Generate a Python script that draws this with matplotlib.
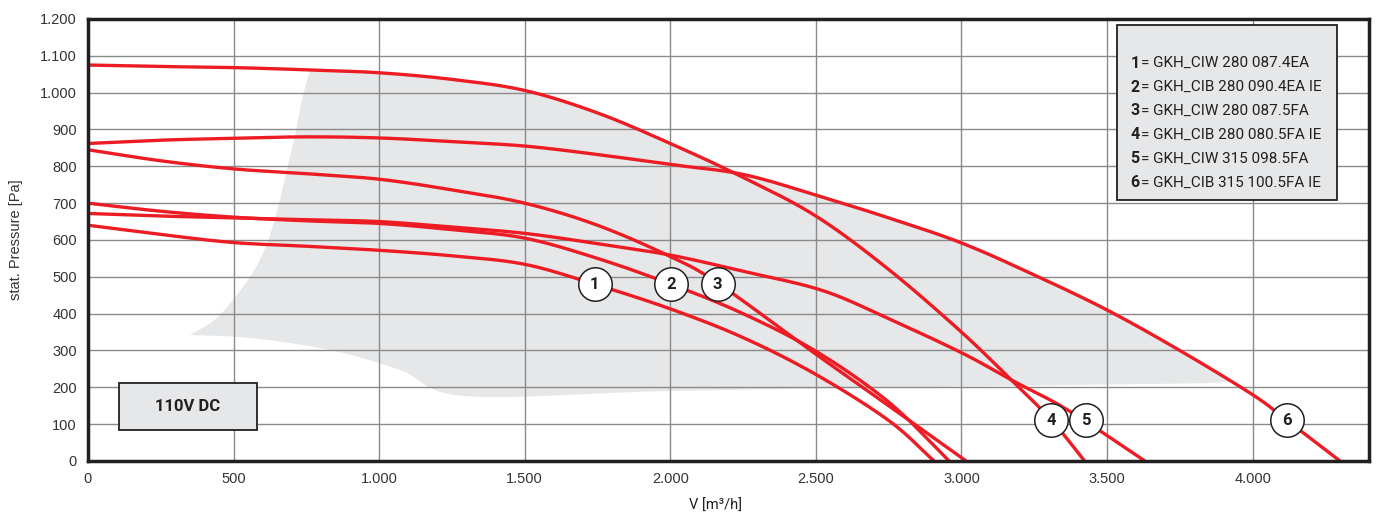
import numpy as np
import matplotlib
matplotlib.use("Agg")
import matplotlib.pyplot as plt
from matplotlib.ticker import FuncFormatter, MultipleLocator

# fan curves: volume flow [m3/h] vs static pressure [Pa]
c1_x = [0, 250, 500, 750, 1000, 1250, 1500, 1740, 2000, 2250, 2500, 2750, 2906]
c1_y = [640, 615, 593, 583, 572, 557, 534, 480, 413, 335, 235, 110, 0]

c2_x = [0, 250, 500, 750, 1000, 1250, 1500, 1750, 2002, 2250, 2500, 2750, 2958]
c2_y = [700, 678, 662, 652, 645, 628, 605, 550, 480, 400, 298, 160, 0]

c3_x = [0, 250, 500, 750, 1000, 1250, 1500, 1750, 2000, 2163, 2500, 2750, 3016]
c3_y = [845, 815, 793, 780, 765, 736, 700, 640, 555, 483, 290, 150, 0]

c4_x = [0, 250, 500, 750, 1000, 1250, 1500, 1750, 2000, 2250, 2500, 2750, 3000, 3171, 3309, 3423]
c4_y = [1075, 1071, 1068, 1062, 1054, 1036, 1006, 945, 862, 770, 665, 520, 350, 220, 111, 0]

c5_x = [0, 250, 500, 750, 1000, 1250, 1500, 1750, 2000, 2250, 2518, 2735, 3005, 3171, 3366, 3630]
c5_y = [672, 665, 660, 655, 650, 635, 618, 590, 559, 515, 464, 392, 292, 220, 138, 0]

c6_x = [0, 250, 500, 750, 1000, 1250, 1500, 1750, 2000, 2250, 2500, 2750, 3000, 3250, 3500, 3750, 4000, 4117, 4300]
c6_y = [862, 871, 876, 880, 877, 867, 855, 832, 805, 778, 722, 660, 592, 505, 410, 300, 180, 111, 0]

curves = [(c1_x, c1_y), (c2_x, c2_y), (c3_x, c3_y), (c4_x, c4_y), (c5_x, c5_y), (c6_x, c6_y)]

# curve number markers
mark_ids = ["1", "2", "3", "4", "5", "6"]
mark_x = [1740, 2002, 2163, 3309, 3429, 4117]
mark_y = [480, 480, 480, 111, 111, 111]

legend_lines = [
    ("1", "GKH_CIW 280 087.4EA"),
    ("2", "GKH_CIB 280 090.4EA IE"),
    ("3", "GKH_CIW 280 087.5FA"),
    ("4", "GKH_CIB 280 080.5FA IE"),
    ("5", "GKH_CIW 315 098.5FA"),
    ("6", "GKH_CIB 315 100.5FA IE"),
]

# operating range (grey area): left edge top->tip, then bottom edge tip->right
env_left_x = [762, 755, 735, 710, 680, 650, 610, 557, 480, 430, 351]
env_left_y = [1056, 1040, 980, 880, 780, 680, 580, 500, 420, 380, 342]
env_bot_x = [351, 557, 832, 1073, 1297, 2000, 2980, 3928]
env_bot_y = [342, 334, 301, 247, 176, 190, 202, 212]

RED = "#ed1c24"
DARK = "#231f20"
GREY = "#e6e7e8"
narrow = ["Liberation Sans Narrow", "Roboto", "DejaVu Sans"]


def smooth(xs, ys, n=24):
    # Catmull-Rom spline through the read points, only for drawing
    p = np.column_stack([xs, ys]).astype(float)
    p = np.vstack([2 * p[0] - p[1], p, 2 * p[-1] - p[-2]])
    out = []
    t = np.linspace(0, 1, n, endpoint=False)[:, None]
    for i in range(1, len(p) - 2):
        p0, p1, p2, p3 = p[i - 1], p[i], p[i + 1], p[i + 2]
        seg = 0.5 * ((2 * p1) + (-p0 + p2) * t + (2 * p0 - 5 * p1 + 4 * p2 - p3) * t ** 2
                     + (-p0 + 3 * p1 - 3 * p2 + p3) * t ** 3)
        out.append(seg)
    out.append(p[-2][None, :])
    out = np.vstack(out)
    return out[:, 0], out[:, 1]


fig = plt.figure(figsize=(13.85, 5.13), dpi=100)
ax = fig.add_axes([0.0635, 0.1014, 0.925, 0.8616])

smoothed = [smooth(cx, cy) for cx, cy in curves]

# grey area: upper boundary is curve 4 up to where it crosses curve 6, then curve 6
s4x, s4y = smoothed[3]
s6x, s6y = smoothed[5]
top_x = np.linspace(env_left_x[0], env_bot_x[-1], 400)
y4 = np.interp(top_x, s4x, s4y)
y6 = np.interp(top_x, s6x, s6y)
cross = np.argmax(y4 < y6)
top_y = np.where(np.arange(len(top_x)) < cross, y4, y6)
lx, ly = smooth(env_left_x, env_left_y, 12)
bx, by = smooth(env_bot_x, env_bot_y, 12)
poly_x = list(top_x) + list(bx[::-1][1:]) + list(lx[::-1][1:])
poly_y = list(top_y) + list(by[::-1][1:]) + list(ly[::-1][1:])
ax.fill(poly_x, poly_y, color=GREY, lw=0, zorder=0.5)

for sx, sy in smoothed:
    ax.plot(sx, sy, color=RED, lw=2.4, zorder=3, solid_capstyle="butt")

for lab, mx, my in zip(mark_ids, mark_x, mark_y):
    ax.scatter(mx, my, s=580, facecolor="white", edgecolor=DARK, lw=1.1, zorder=5)
    ax.text(mx, my, lab, ha="center", va="center", fontsize=12, fontweight="bold",
            color=DARK, zorder=6, family=narrow)

ax.set_xlim(0, 4400)
ax.set_ylim(0, 1200)
ax.xaxis.set_major_locator(MultipleLocator(500))
ax.yaxis.set_major_locator(MultipleLocator(100))
fmt = FuncFormatter(lambda v, p: f"{int(v):,}".replace(",", "."))
ax.xaxis.set_major_formatter(fmt)
ax.yaxis.set_major_formatter(fmt)
ax.grid(True, color="#8a8a8a", lw=1.0, zorder=1)
ax.set_axisbelow(True)
ax.tick_params(length=0, labelsize=10.5, colors="#333333", pad=8)
for t in ax.get_xticklabels() + ax.get_yticklabels():
    t.set_family(["Liberation Sans", "DejaVu Sans"])
for s in ax.spines.values():
    s.set_color(DARK)
    s.set_linewidth(2.5)
    s.set_zorder(7)

ax.set_xlabel("V [m³/h]", fontsize=10.5, family=narrow, color=DARK, labelpad=8)
ax.xaxis.set_label_coords(0.49, -0.085)
ax.set_ylabel("stat. Pressure [Pa]", fontsize=10.5, family=["Liberation Sans", "DejaVu Sans"],
              color="#333333", labelpad=12)

# legend box
ax.add_patch(plt.Rectangle((0.8035, 0.5895), 0.1717, 0.396, transform=ax.transAxes,
                           facecolor=GREY, edgecolor=DARK, lw=1.3, zorder=8))
for i, (num, name) in enumerate(legend_lines):
    yy = 0.9 - i * 0.054
    ax.text(0.8137, yy, num, transform=ax.transAxes, fontsize=11.5, fontweight="bold",
            color=DARK, va="center", family=narrow, zorder=9)
    ax.text(0.8222, yy, "= " + name, transform=ax.transAxes, fontsize=11,
            color=DARK, va="center", family=narrow, zorder=9)

# voltage box
ax.add_patch(plt.Rectangle((0.0242, 0.0701), 0.1077, 0.1063, transform=ax.transAxes,
                           facecolor=GREY, edgecolor=DARK, lw=1.3, zorder=8))
ax.text(0.078, 0.1233, "110V DC", transform=ax.transAxes, ha="center", va="center",
        fontsize=12, fontweight="bold", color=DARK, family=narrow, zorder=9)

fig.savefig("out.png", dpi=100)
